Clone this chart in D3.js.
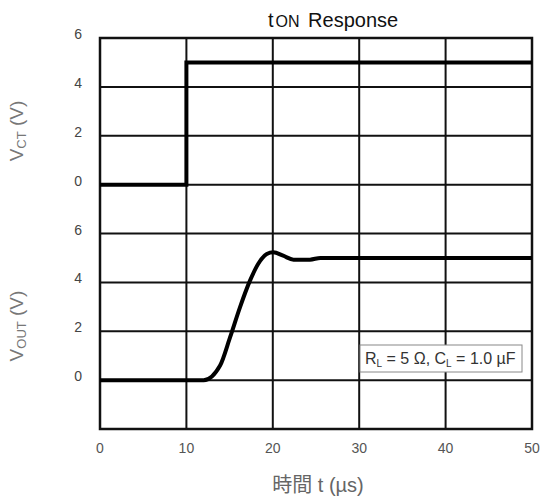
<!DOCTYPE html>
<html>
<head>
<meta charset="utf-8">
<script src="https://cdn.jsdelivr.net/npm/d3@7"></script>
<style>
  html, body { margin: 0; padding: 0; background: #fff; }
  svg { display: block; }
</style>
</head>
<body>
<svg id="chart" width="543" height="501"></svg>
<script>
// ---- data ----
const xTicks = [0, 10, 20, 30, 40, 50];
const vctTicks = [0, 2, 4, 6];
const voutTicks = [0, 2, 4, 6];
const vctT = [0, 10, 10, 50];
const vctV = [0, 0, 5, 5];
const voutT = [0, 12.0, 13.9, 15.05, 16.2, 17.36, 18.3, 19.3, 20.06, 21.2, 22.4, 24.3, 25.5, 50];
const voutV = [0, 0, 0.6, 1.75, 2.98, 4.07, 4.75, 5.16, 5.23, 5.09, 4.93, 4.93, 5.0, 5.0];
const titleMain = "t";
const titleSub = "ON";
const titleRest = " Response";
const xLabel = "時間 t (µs)";
const noteParts = [["R", false], ["L", true], [" = 5 Ω, C", false], ["L", true], [" = 1.0 µF", false]];

(function () {
// ---- layout ----
const svg = d3.select("#chart");
const pL = 100, pR = 532, pT = 38, pB = 429;
const rows = 8;
const rh = (pB - pT) / rows;

const x = d3.scaleLinear().domain([0, 50]).range([pL, pR]);
const yCT = d3.scaleLinear().domain([0, 6]).range([pT + 3 * rh, pT]);
const yOUT = d3.scaleLinear().domain([-2, 6]).range([pB, pT + 4 * rh]);

const grid = svg.append("g");
d3.range(1, rows).forEach(i => {
  grid.append("line")
    .attr("x1", pL).attr("x2", pR)
    .attr("y1", pT + i * rh).attr("y2", pT + i * rh)
    .attr("stroke", "#111").attr("stroke-width", 2);
});
xTicks.slice(1, -1).forEach(t => {
  grid.append("line")
    .attr("x1", x(t)).attr("x2", x(t))
    .attr("y1", pT).attr("y2", pB)
    .attr("stroke", "#111").attr("stroke-width", 2);
});
grid.append("rect")
  .attr("x", pL).attr("y", pT)
  .attr("width", pR - pL).attr("height", pB - pT)
  .attr("fill", "none").attr("stroke", "#111").attr("stroke-width", 2.5);

// x tick labels
svg.append("g").selectAll("text").data(xTicks).join("text")
  .attr("x", d => x(d)).attr("y", 453)
  .attr("text-anchor", "middle")
  .attr("font-family", "Liberation Sans, Arial, sans-serif")
  .attr("font-size", 14).attr("fill", "#555")
  .text(d => d);

// y tick labels
function yLabels(ticks, scale) {
  svg.append("g").selectAll("text").data(ticks).join("text")
    .attr("x", 82).attr("y", d => scale(d) + 1)
    .attr("text-anchor", "end")
    .attr("font-family", "Liberation Sans, Arial, sans-serif")
    .attr("font-size", 14).attr("fill", "#444")
    .text(d => d);
}
yLabels(vctTicks, yCT);
yLabels(voutTicks, yOUT);

// y axis titles
function yTitle(main, sub, cy) {
  const t = svg.append("text")
    .attr("transform", `translate(23,${cy}) rotate(-90)`)
    .attr("text-anchor", "middle")
    .attr("font-family", "Liberation Sans, Arial, sans-serif")
    .attr("font-size", 19).attr("fill", "#777");
  t.append("tspan").text(main);
  t.append("tspan").attr("font-size", 13).attr("dy", 3).text(sub);
  t.append("tspan").attr("dy", -3).text(" (V)");
}
yTitle("V", "CT", 131);
yTitle("V", "OUT", 326);

// x axis title
svg.append("text")
  .attr("x", 318).attr("y", 492)
  .attr("text-anchor", "middle")
  .attr("font-family", "Liberation Sans, Noto Sans CJK JP, sans-serif")
  .attr("font-size", 20).attr("fill", "#666")
  .text(xLabel);

// title
const title = svg.append("text")
  .attr("x", 268).attr("y", 27)
  .attr("font-family", "Liberation Sans, Arial, sans-serif")
  .attr("font-size", 20).attr("fill", "#111");
title.append("tspan").text(titleMain);
title.append("tspan").attr("font-size", 16).attr("dx", 2).text(titleSub);
title.append("tspan").attr("dx", 3).text(titleRest);

// lines
const lineCT = d3.line().x(d => x(d[0])).y(d => yCT(d[1]));
const lineOUT = d3.line().x(d => x(d[0])).y(d => yOUT(d[1])).curve(d3.curveMonotoneX);
svg.append("path")
  .attr("d", lineCT(d3.zip(vctT, vctV)))
  .attr("fill", "none").attr("stroke", "#000").attr("stroke-width", 4);
svg.append("path")
  .attr("d", lineOUT(d3.zip(voutT, voutV)))
  .attr("fill", "none").attr("stroke", "#000").attr("stroke-width", 4)
  .attr("stroke-linejoin", "round");

// annotation box
svg.append("rect")
  .attr("x", 360).attr("y", 345).attr("width", 162).attr("height", 27)
  .attr("fill", "#fff").attr("stroke", "#888").attr("stroke-width", 1);
const note = svg.append("text")
  .attr("x", 365).attr("y", 364)
  .attr("font-family", "Liberation Sans, Arial, sans-serif")
  .attr("font-size", 16).attr("fill", "#333");
noteParts.forEach(([s, sub], i) => {
  const ts = note.append("tspan").text(s);
  if (sub) ts.attr("font-size", 10).attr("dy", 3);
  else if (i > 0 && noteParts[i - 1][1]) ts.attr("dy", -3);
});
})();
</script>
</body>
</html>
